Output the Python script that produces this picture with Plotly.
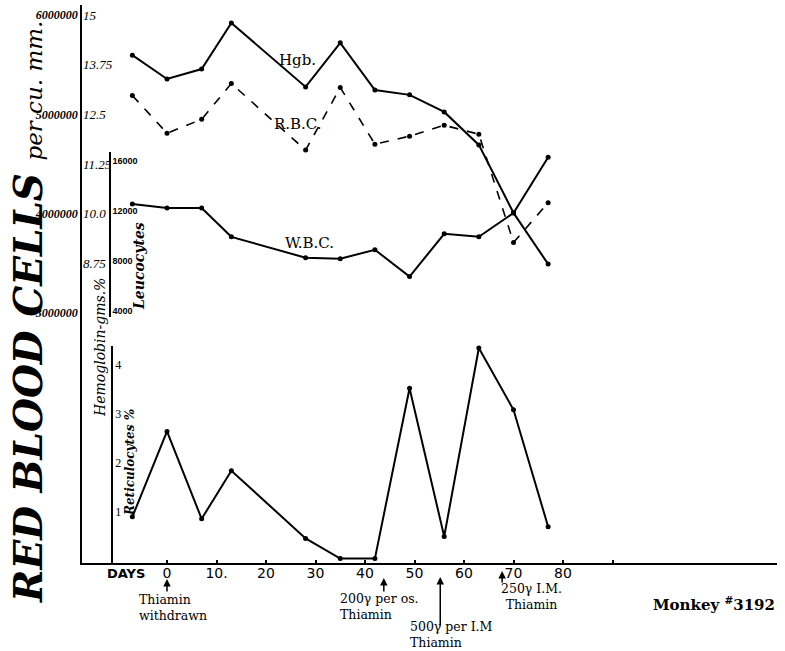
import plotly.graph_objects as go

# ---------------- data ----------------
days = [-7, 0, 7, 13, 28, 35, 42, 49, 56, 63, 70, 77]
hgb = [13.99, 13.39, 13.64, 14.80, 13.19, 14.30, 13.11, 12.99, 12.56, 11.73, 10.02, 8.73]
rbc = [5190000, 4810000, 4950000, 5310000, 4640000, 5270000, 4700000, 4780000, 4890000, 4800000, 3710000, 4110000]
wbc = [12560, 12240, 12240, 9920, 8240, 8160, 8880, 6720, 10160, 9920, 11840, 16320]
retic = [0.90, 2.64, 0.86, 1.84, 0.46, 0.05, 0.05, 3.52, 0.50, 4.34, 3.08, 0.70]

day_ticks = [0, 10, 20, 30, 40, 50, 60, 70, 80, 90]
day_labels = ["0", "10.", "20", "30", "40", "50", "60", "70", "80", ""]
rbc_ticks = [3000000, 4000000, 5000000, 6000000]
rbc_labels = ["3000000", "4000000", "5000000", "6000000"]
hgb_ticks = [8.75, 10.0, 11.25, 12.5, 13.75, 15]
hgb_labels = ["8.75", "10.0", "11.25", "12.5", "13.75", "15"]
wbc_ticks = [4000, 8000, 12000, 16000]
wbc_labels = ["4000", "8000", "12000", "16000"]
ret_ticks = [1, 2, 3, 4]
ret_labels = ["1", "2", "3", "4"]

treatments_day = [0, 43.8, 55.2, 67.7]
treatments_text = ["Thiamin<br>withdrawn", "200γ per os.<br>Thiamin",
                   "500γ per I.M<br>Thiamin", "250γ I.M.<br>Thiamin"]

# ---------------- layout geometry ----------------
W, H = 785, 651
L, R, T, B = 82, 8, 5, 88
PW, PH = W - L - R, H - T - B


def px(xp):
    return (xp - L) / PW


def py(yp):
    return (H - B - yp) / PH


BLACK = "black"
SERIF = "DejaVu Serif"

fig = go.Figure()
line_kw = dict(color=BLACK, width=2)
mk = dict(color=BLACK, size=5)

fig.add_trace(go.Scatter(x=days, y=hgb, yaxis="y2", mode="lines+markers",
                         line=line_kw, marker=mk, name="Hgb.", cliponaxis=False))
fig.add_trace(go.Scatter(x=days, y=rbc, yaxis="y", mode="lines+markers",
                         line=dict(color=BLACK, width=1.6, dash="dash"), marker=mk,
                         name="R.B.C.", cliponaxis=False))
fig.add_trace(go.Scatter(x=days, y=wbc, yaxis="y3", mode="lines+markers",
                         line=line_kw, marker=mk, name="W.B.C.", cliponaxis=False))
fig.add_trace(go.Scatter(x=days, y=retic, yaxis="y4", mode="lines+markers",
                         line=line_kw, marker=mk, name="Reticulocytes", cliponaxis=False))

rbc_lo = (6 - (H - B - 15) / 99.33) * 1e6
rbc_hi = (6 + (15 - T) / 99.33) * 1e6

tickfont_small = dict(family="Liberation Serif", size=12, color=BLACK, weight="bold", style="italic")

fig.update_layout(
    template="none",
    width=W, height=H,
    margin=dict(l=L, r=R, t=T, b=B, autoexpand=False),
    paper_bgcolor="white", plot_bgcolor="rgba(0,0,0,0)",
    showlegend=False,
    xaxis=dict(domain=[0, 1], anchor="y", range=[(L - 167) / 4.95, (W - R - 167) / 4.95],
               showline=True, linecolor=BLACK, linewidth=2, showgrid=False, zeroline=False,
               tickvals=day_ticks, ticktext=day_labels, ticks="inside", ticklen=3,
               tickwidth=2, tickcolor=BLACK, automargin=False, ticklabelstandoff=-4,
               tickfont=dict(family="DejaVu Sans", size=14, color=BLACK)),
    yaxis=dict(domain=[0, 1], range=[rbc_lo, rbc_hi], showline=True, linecolor=BLACK,
               linewidth=1.5, showgrid=False, zeroline=False, ticks="", automargin=False,
               tickvals=rbc_ticks, ticktext=rbc_labels, tickfont=tickfont_small,
               ticklabelstandoff=0),
    yaxis2=dict(overlaying="y", anchor="free", position=0, side="right", automargin=False,
                range=[rbc_lo * 2.5e-6, rbc_hi * 2.5e-6], showline=False, showgrid=False,
                zeroline=False, ticks="", tickvals=hgb_ticks, ticktext=hgb_labels,
                tickfont=dict(family="Liberation Serif", size=13, color=BLACK, style="italic"),
                ticklabelstandoff=0),
    yaxis3=dict(domain=[py(317), py(152)], anchor="free", position=px(110), side="right",
                range=[12000 - (317 - 211) * 80.48, 12000 + (211 - 152) * 80.48],
                showline=True, linecolor=BLACK, linewidth=1.5, showgrid=False, zeroline=False,
                ticks="", tickvals=wbc_ticks, ticktext=wbc_labels, automargin=False,
                tickfont=dict(family="Liberation Sans Narrow, Liberation Sans", size=9,
                              color=BLACK, weight="bold"),
                ticklabelstandoff=0),
    yaxis4=dict(domain=[0, py(346)], anchor="free", position=px(112), side="right",
                range=[-0.04, 4.38], showline=True, linecolor=BLACK, linewidth=1.5,
                showgrid=False, zeroline=False, ticks="", tickvals=ret_ticks,
                ticktext=ret_labels, automargin=False,
                tickfont=dict(family="Liberation Serif", size=12, color=BLACK),
                ticklabelstandoff=0),
)

ann = []


def text_ann(xp, yp, text, size, angle=0, family=SERIF, xanchor="center", align="center"):
    ann.append(dict(xref="paper", yref="paper", x=px(xp), y=py(yp), showarrow=False,
                    xanchor=xanchor, yanchor="middle", textangle=angle, text=text,
                    align=align, font=dict(family=family, size=size, color=BLACK)))


# big rotated title
text_ann(28, 312,
         "<b><i>RED BLOOD CELLS</i></b> <span style='font-size:23px'><i>per cu. mm.</i></span>",
         39, angle=-90)
text_ann(100, 348, "<i>Hemoglobin-gms.%</i>", 14, angle=-90)
text_ann(139, 266, "<b><i>Leucocytes</i></b>", 14, angle=-90)
text_ann(130, 463, "<b><i>Reticulocytes %</i></b>", 12, angle=-90)
# curve labels
for t, xx, yy in [("Hgb.", 297, 60), ("R.B.C.", 298, 124), ("W.B.C.", 309, 243)]:
    text_ann(xx, yy, t, 15)
# DAYS
text_ann(126, 573, "<b>DAYS</b>", 13, family="DejaVu Sans")
# treatment arrows and labels
arrow_geom = [(579, 14), (578, 15), (577, 50), (571, 13)]
text_pos = [(173, 607), (379, 606), (451, 635), (531, 596)]
aligns = ["left", "left", "left", "center"]
for d, (tip, ln), txt, (tx, ty), al in zip(treatments_day, arrow_geom, treatments_text, text_pos, aligns):
    ann.append(dict(xref="x", yref="paper", x=d, y=py(tip), ax=0, ay=ln, text="",
                    showarrow=True, arrowhead=2, arrowsize=1, arrowwidth=1.5,
                    arrowcolor=BLACK))
    text_ann(tx, ty, txt, 12.5, align=al)
text_ann(777, 604, "<b>Monkey <sup>#</sup>3192</b>", 15, xanchor="right")

fig.update_layout(annotations=ann)
fig.write_html("out.html", config={"displayModeBar": False},
               post_script="document.body.style.margin='0px';")
